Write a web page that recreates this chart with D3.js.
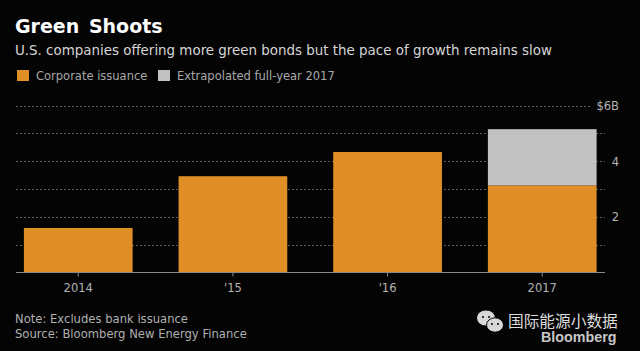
<!DOCTYPE html>
<html><head><meta charset="utf-8">
<script src="https://cdn.jsdelivr.net/npm/d3@7"></script>
<style>html,body{margin:0;padding:0;background:#040404;overflow:hidden}svg{display:block}text{font-family:"DejaVu Sans",sans-serif}</style>
</head><body><div id="c"></div>
<script>
const categories = ["2014","'15","'16","2017"];
const corporate = [1.6,3.46,4.33,3.13];
const extrapolated = [0,0,0,2.02];
const yTicks = [1,2,3,4,5,6];
const yLabels = {2:"2",4:"4",6:"$6B"};
const legendItems = [["Corporate issuance","#e08e26"],["Extrapolated full-year 2017","#c2c2c2"]];

const W=640,H=351;
const svg=d3.select("#c").append("svg").attr("width",W).attr("height",H);
svg.append("rect").attr("width",W).attr("height",H).attr("fill","#040404");
const x=d3.scaleBand().domain(categories).range([1,619.5]).paddingInner(0.297).paddingOuter(0.148);
const y=d3.scaleLinear().domain([0,6]).range([272.5,105.5]);
const g=svg.append("g");
g.selectAll(".grid").data(yTicks).join("line")
 .attr("x1",16).attr("x2",d=>d===6?590:605).attr("y1",d=>Math.round(y(d))+.5).attr("y2",d=>Math.round(y(d))+.5)
 .attr("stroke","#5c5c5c").attr("stroke-width",1).attr("stroke-dasharray","2 2");
g.selectAll(".c").data(categories).join("rect")
 .attr("x",d=>x(d)).attr("width",x.bandwidth())
 .attr("y",(d,i)=>y(corporate[i])).attr("height",(d,i)=>y(0)-y(corporate[i])).attr("fill",legendItems[0][1]);
g.selectAll(".e").data(categories.filter((d,i)=>extrapolated[i]>0)).join("rect")
 .attr("x",d=>x(d)).attr("width",x.bandwidth())
 .attr("y",d=>{const i=categories.indexOf(d);return y(corporate[i]+extrapolated[i]);})
 .attr("height",d=>{const i=categories.indexOf(d);return y(0)-y(extrapolated[i]);})
 .attr("fill",legendItems[1][1]);
const xAxis=d3.axisBottom(x).tickSize(4).tickPadding(7);
const ax=g.append("g").attr("transform","translate(0,272.5)").call(xAxis);
ax.select(".domain").remove();
ax.selectAll("line").attr("stroke","#8a8a8a");
ax.selectAll("text").attr("fill","#b4b4b4").attr("font-size",11.5).style("font-family",'"DejaVu Sans",sans-serif');
g.append("line").attr("x1",16).attr("x2",605).attr("y1",272.5).attr("y2",272.5).attr("stroke","#8a8a8a");
g.selectAll(".yl").data(Object.keys(yLabels).map(Number)).join("text")
 .attr("x",619).attr("y",d=>y(d)+4.5).attr("text-anchor","end")
 .attr("fill","#b4b4b4").attr("font-size",11.5).text(d=>yLabels[d]);
svg.append("text").attr("x",15).attr("y",33).attr("fill","#fff").attr("font-weight","bold").attr("font-size",19).attr("word-spacing",3).text("Green Shoots");
svg.append("text").attr("x",15).attr("y",55).attr("fill","#d6d6d6").attr("font-size",13.42).text("U.S. companies offering more green bonds but the pace of growth remains slow");
const lx=[17,158];
legendItems.forEach((it,i)=>{
 svg.append("rect").attr("x",lx[i]).attr("y",70).attr("width",12).attr("height",11).attr("fill",it[1]);
 svg.append("text").attr("x",lx[i]+19).attr("y",80).attr("fill","#a8a8a8").attr("font-size",11.5).text(it[0]);
});
svg.append("text").attr("x",15).attr("y",323).attr("fill","#b0b0b0").attr("font-size",11.6).text("Note: Excludes bank issuance");
svg.append("text").attr("x",15).attr("y",338).attr("fill","#b0b0b0").attr("font-size",11.6).text("Source: Bloomberg New Energy Finance");
const wm=svg.append("g");
[[486,318,9.5],[495,325,8.5]].forEach(([cx,cy,r])=>{
 wm.append("ellipse").attr("cx",cx).attr("cy",cy).attr("rx",r).attr("ry",r*.85).attr("fill","#d8d8d8").attr("stroke","#040404");
 [-3,3].forEach(d=>wm.append("circle").attr("cx",cx+d).attr("cy",cy-1).attr("r",1).attr("fill","#040404"));
});
svg.append("text").attr("x",508).attr("y",326.5).attr("fill","#dedede").attr("font-size",15.7).style("font-family",'"Noto Sans CJK SC"').text("国际能源小数据");
svg.append("text").attr("x",541).attr("y",342).attr("fill","#c8c8c8").attr("font-size",14.3).attr("font-weight","bold").style("font-family",'"Liberation Sans"').text("Bloomberg");
</script></body></html>
